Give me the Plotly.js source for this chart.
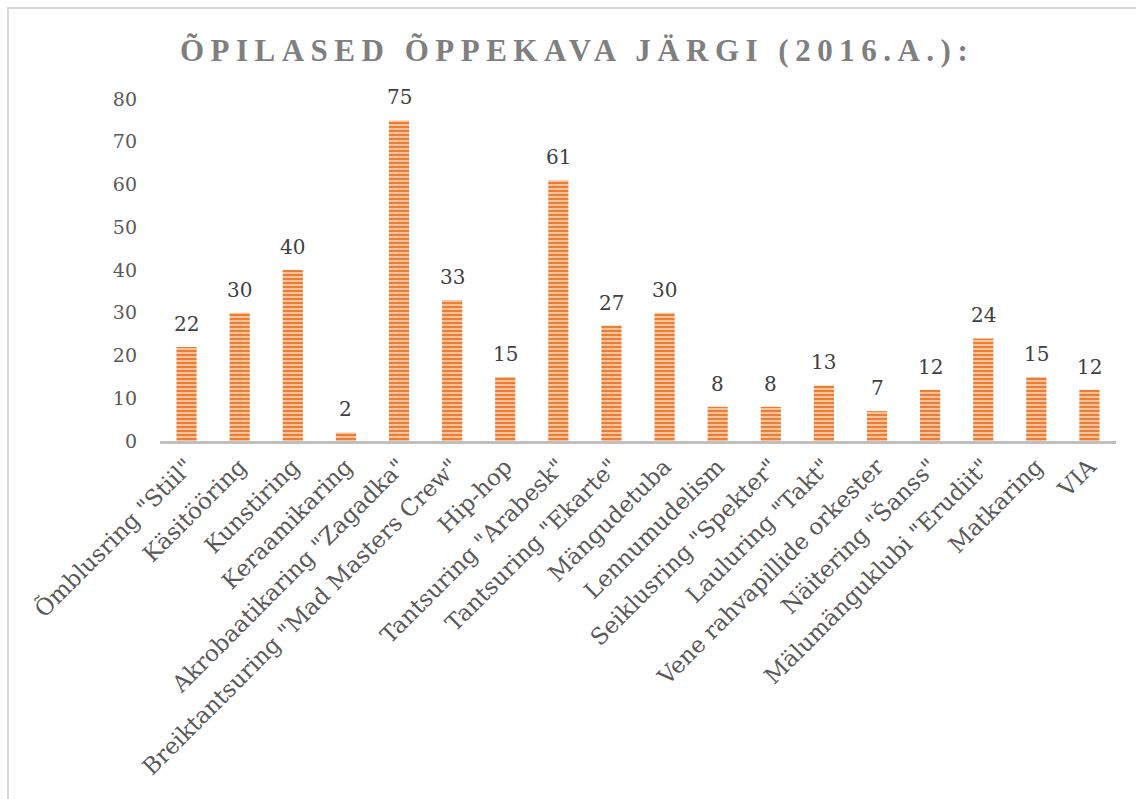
<!DOCTYPE html>
<html>
<head>
<meta charset="utf-8">
<script src="https://cdn.plot.ly/plotly-3.0.1.min.js"></script>
<style>
  html, body { margin:0; padding:0; background:#fff; }
  #frame { position:absolute; left:7px; top:7px; width:1140px; height:800px; border-left:2px solid #d9d9d9; border-top:2px solid #d9d9d9; }
  #chart { position:absolute; left:0; top:0; width:1136px; height:799px; }
</style>
</head>
<body>
<div id="frame"></div>
<div id="chart"></div>
<script>
const categories = [
  'Õmblusring "Stiil"', 'Käsitööring', 'Kunstiring', 'Keraamikaring',
  'Akrobaatikaring "Zagadka"', 'Breiktantsuring "Mad Masters Crew"', 'Hip-hop',
  'Tantsuring "Arabesk"', 'Tantsuring "Ekarte"', 'Mängudetuba', 'Lennumudelism',
  'Seiklusring "Spekter"', 'Lauluring "Takt"', 'Vene rahvapillide orkester',
  'Näitering "Šanss"', 'Mälumänguklubi "Erudiit"', 'Matkaring', 'VIA'
];
const values = [22, 30, 40, 2, 75, 33, 15, 61, 27, 30, 8, 8, 13, 7, 12, 24, 15, 12];
const yTicks = [0, 10, 20, 30, 40, 50, 60, 70, 80];
const titleText = 'ÕPILASED ÕPPEKAVA JÄRGI (2016.A.):';

const serif = '"DejaVu Serif", "Liberation Serif", serif';
const titleSerif = '"Liberation Serif", "DejaVu Serif", serif';

const trace = {
  type: 'bar',
  x: categories,
  y: values,
  marker: {
    color: '#ED7D31',
    line: { width: 0 },
    pattern: { shape: '-', bgcolor: '#ED7D31', fgcolor: '#F8CBAD', size: 4, solidity: 0.45 }
  },
  hoverinfo: 'x+y'
};

const annotations = categories.map((c, i) => ({
  x: c, y: values[i], xref: 'x', yref: 'y',
  text: String(values[i]), showarrow: false,
  yanchor: 'bottom', yshift: 9,
  font: { family: serif, size: 20, color: '#404040' }
}));

const layout = {
  width: 1136, height: 799,
  paper_bgcolor: 'rgba(0,0,0,0)', plot_bgcolor: 'rgba(0,0,0,0)',
  margin: { l: 160, r: 20, t: 99, b: 358 },
  title: {
    text: '<b>' + titleText + '</b>',
    x: 0.508, xanchor: 'center', y: 0.937, yanchor: 'middle',
    font: { family: titleSerif, size: 31, color: '#7F7F7F' }
  },
  bargap: 0.62,
  showlegend: false,
  xaxis: {
    type: 'category',
    tickangle: -45,
    tickfont: { family: serif, size: 23, color: '#595959' },
    showline: true, linecolor: '#BFBFBF', linewidth: 3,
    showgrid: false, ticks: '', zeroline: false
  },
  yaxis: {
    range: [0, 80],
    tickvals: yTicks,
    ticktext: yTicks.map(String),
    tickfont: { family: serif, size: 19, color: '#595959' },
    showgrid: false, zeroline: false, showline: false, ticks: '',
    ticklabelstandoff: 22
  },
  annotations: annotations
};

Plotly.newPlot('chart', [trace], layout, { displayModeBar: false, staticPlot: true }).then(() => {
  const t = document.querySelector('.gtitle');
  if (t) { t.style.letterSpacing = '6.5px'; }
});
</script>
</body>
</html>
